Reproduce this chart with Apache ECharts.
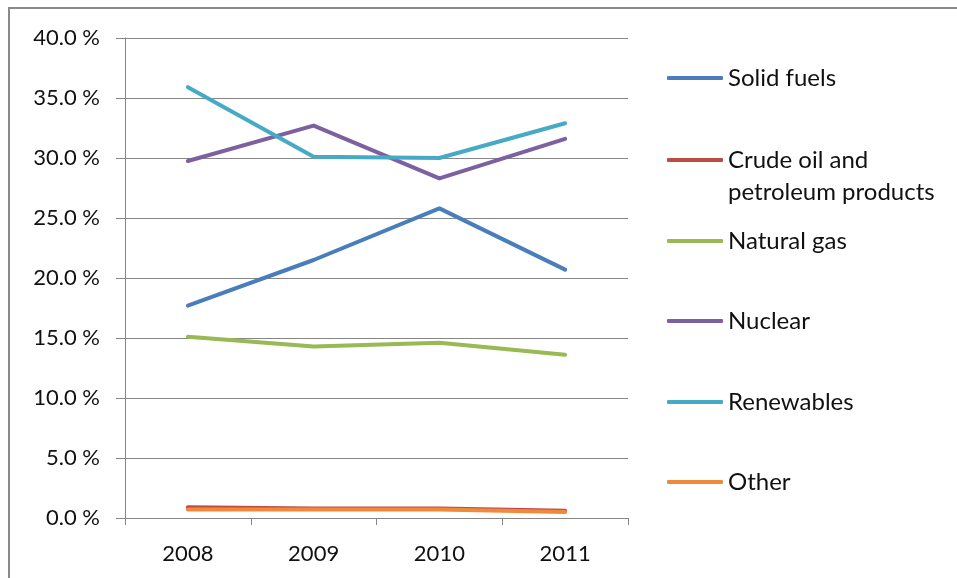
<!DOCTYPE html>
<html>
<head>
<meta charset="utf-8">
<style>html,body{margin:0;padding:0;background:#fff}#c{width:957px;height:578px}</style>
<script src="https://cdn.jsdelivr.net/npm/echarts@6/dist/echarts.min.js"></script>
</head>
<body>
<div id="c"></div>
<script>
const years = ['2008', '2009', '2010', '2011'];
const solidFuels = [17.7, 21.5, 25.8, 20.7];
const crudeOil = [0.9, 0.8, 0.8, 0.6];
const naturalGas = [15.1, 14.3, 14.6, 13.6];
const nuclear = [29.75, 32.7, 28.3, 31.6];
const renewables = [35.9, 30.1, 30.0, 32.9];
const other = [0.7, 0.7, 0.7, 0.5];
const seriesNames = ['Solid fuels', 'Crude oil and petroleum products', 'Natural gas', 'Nuclear', 'Renewables', 'Other'];
const seriesData = [solidFuels, crudeOil, naturalGas, nuclear, renewables, other];
const colors = ['#4A7EBB', '#BE4B48', '#98B954', '#7D60A0', '#46AAC5', '#F08A3A'];
const legendCenters = [78, 160, 241, 321, 402, 482];

const FONT = 'Lato';
const LH = 32;
const chart = echarts.init(document.getElementById('c'));
const legends = seriesNames.map((n, i) => {
  const isCrude = i === 1;
  return {
    show: true,
    data: [n],
    left: 667,
    top: legendCenters[i] - (isCrude ? LH * 1.5 : LH / 2),
    itemWidth: 56,
    itemHeight: 4,
    itemGap: 0,
    padding: 0,
    icon: 'roundRect',
    selectedMode: false,
    formatter: isCrude ? '\nCrude oil and\npetroleum products' : n,
    textStyle: { fontFamily: FONT, fontSize: 24, color: '#111', lineHeight: LH }
  };
});
chart.setOption({
  animation: false,
  color: colors,
  graphic: [{
    type: 'rect', shape: { x: 9, y: 8, width: 1200, height: 1000 },
    style: { fill: 'none', stroke: '#8a8a8a', lineWidth: 2 }, z: 100
  }],
  grid: { left: 125, right: 329, top: 38, bottom: 60 },
  legend: legends,
  xAxis: {
    type: 'category', data: years, boundaryGap: true,
    axisLine: { lineStyle: { color: '#868686', width: 1 } },
    axisTick: { show: true, length: 7, lineStyle: { color: '#868686' } },
    axisLabel: { fontFamily: FONT, fontSize: 22, color: '#111', margin: 25 }
  },
  yAxis: {
    type: 'value', min: 0, max: 40, interval: 5,
    axisLine: { show: true, lineStyle: { color: '#868686', width: 1 } },
    axisTick: { show: true, length: 9, inside: false, lineStyle: { color: '#868686' } },
    splitLine: { lineStyle: { color: '#868686', width: 1 } },
    axisLabel: { fontFamily: FONT, fontSize: 22, color: '#111', margin: 25,
      formatter: v => v.toFixed(1) + ' %' }
  },
  series: seriesNames.map((n, i) => ({
    name: n, type: 'line', data: seriesData[i],
    symbol: 'none', lineStyle: { width: 4, color: colors[i], cap: 'round', join: 'round' },
    itemStyle: { color: colors[i] }
  }))
});
</script>
</body>
</html>
